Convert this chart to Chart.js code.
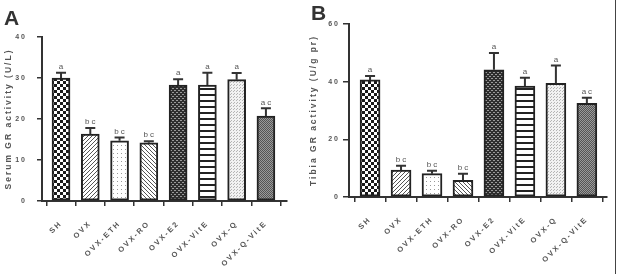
<!DOCTYPE html>
<html lang="en">
<head>
  <meta charset="UTF-8">
  <title>GR activity</title>
  <script src="https://cdn.jsdelivr.net/npm/chart.js"></script>
  <style>
    body {
      margin: 0;
      background: #ffffff;
      width: 621px;
      height: 274px;
      overflow: hidden;
      position: relative;
      font-family: "Liberation Sans", Arial, sans-serif;
    }
    .panel {
      position: absolute;
      top: 0;
      height: 274px;
    }
    #boxA { left: 0; width: 305px; }
    #boxB { left: 305px; width: 316px; }
    .tag {
      position: absolute;
      font-weight: bold;
      font-size: 21px;
      color: #333;
    }
    .frame {
      position: absolute;
      left: 615px;
      top: 0;
      width: 1px;
      height: 274px;
      background: #444;
    }
  </style>
</head>
<body>
  <div class="panel" id="boxA"><canvas id="chartA"></canvas></div>
  <div class="panel" id="boxB"><canvas id="chartB"></canvas></div>
  <div class="tag" style="left:4px; top:6px;">A</div>
  <div class="tag" style="left:311px; top:1px;">B</div>
  <div class="frame"></div>

  <script>
    // groups
    const groups = ['SH', 'OVX', 'OVX-ETH', 'OVX-RO', 'OVX-E2', 'OVX-VitE', 'OVX-Q', 'OVX-Q-VitE'];

    // serum GR activity (U/L)
    const serumGR = [30.0, 16.3, 14.7, 14.2, 28.3, 28.3, 29.6, 20.7];
    const serumErr = [1.3, 1.5, 0.8, 0.4, 1.4, 3.0, 1.6, 1.9];
    const serumLetters = ['a', 'bc', 'bc', 'bc', 'a', 'a', 'a', 'ac'];

    // tibia GR activity (U/g pr)
    const tibiaGR = [40.6, 9.3, 8.1, 5.8, 44.1, 38.5, 39.4, 32.5];
    const tibiaErr = [1.4, 1.5, 1.0, 2.3, 5.8, 2.9, 6.2, 1.9];
    const tibiaLetters = ['a', 'bc', 'bc', 'bc', 'a', 'a', 'a', 'ac'];

    const FONT = '"Liberation Sans", Arial, sans-serif';

    // fill patterns, one per group
    function makePattern(w, h, draw) {
      const c = document.createElement('canvas');
      c.width = w; c.height = h;
      const g = c.getContext('2d');
      draw(g, w, h);
      return g.createPattern(c, 'repeat');
    }

    const fills = [
      // SH checkerboard
      makePattern(6, 6, (g) => {
        g.fillStyle = '#fff'; g.fillRect(0, 0, 6, 6);
        g.fillStyle = '#1a1a1a'; g.fillRect(0, 0, 3, 3); g.fillRect(3, 3, 3, 3);
      }),
      // OVX  ////
      makePattern(4, 4, (g) => {
        g.fillStyle = '#fff'; g.fillRect(0, 0, 4, 4);
        g.strokeStyle = '#555'; g.lineWidth = 1;
        g.beginPath(); g.moveTo(0, 4); g.lineTo(4, 0); g.moveTo(-1, 1); g.lineTo(1, -1); g.moveTo(3, 5); g.lineTo(5, 3); g.stroke();
      }),
      // ETH sparse dots
      makePattern(4, 4, (g) => {
        g.fillStyle = '#fff'; g.fillRect(0, 0, 4, 4);
        g.fillStyle = '#999'; g.fillRect(1, 1, 1, 1);
      }),
      // RO \\\\
      makePattern(4, 4, (g) => {
        g.fillStyle = '#fff'; g.fillRect(0, 0, 4, 4);
        g.strokeStyle = '#555'; g.lineWidth = 1;
        g.beginPath(); g.moveTo(0, 0); g.lineTo(4, 4); g.moveTo(3, -1); g.lineTo(5, 1); g.moveTo(-1, 3); g.lineTo(1, 5); g.stroke();
      }),
      // E2 dark weave
      makePattern(4, 4, (g) => {
        g.fillStyle = '#2e2e2e'; g.fillRect(0, 0, 4, 4);
        g.fillStyle = '#9a9a9a'; g.fillRect(0, 0, 2, 1); g.fillRect(2, 2, 2, 1);
      }),
      // VitE horizontal stripes
      makePattern(6, 6, (g) => {
        g.fillStyle = '#fff'; g.fillRect(0, 0, 6, 6);
        g.fillStyle = '#222'; g.fillRect(0, 4, 6, 2);
      }),
      // Q light speckle
      makePattern(3, 3, (g) => {
        g.fillStyle = '#f2f2f2'; g.fillRect(0, 0, 3, 3);
        g.fillStyle = '#b5b5b5'; g.fillRect(0, 0, 1, 1); g.fillRect(2, 1, 1, 1);
      }),
      // Q-VitE medium grey speckle
      makePattern(2, 2, (g) => {
        g.fillStyle = '#9a9a9a'; g.fillRect(0, 0, 2, 2);
        g.fillStyle = '#555'; g.fillRect(0, 0, 1, 1); g.fillRect(1, 1, 1, 1);
      })
    ];

    // error bars + significance letters
    const errorBars = {
      id: 'errorBars',
      afterDatasetsDraw(chart, args, opts) {
        const { ctx, scales: { x, y } } = chart;
        const vals = chart.data.datasets[0].data;
        ctx.save();
        ctx.strokeStyle = '#333';
        ctx.lineWidth = 2;
        ctx.letterSpacing = '2px';
        ctx.font = '8px ' + FONT;
        ctx.fillStyle = '#555';
        ctx.textAlign = 'center';
        ctx.textBaseline = 'bottom';
        vals.forEach((p, i) => {
          const px = x.getPixelForValue(p.x);
          const y0 = y.getPixelForValue(p.y);
          const y1 = y.getPixelForValue(p.y + opts.err[i]);
          ctx.beginPath();
          ctx.moveTo(px, y0); ctx.lineTo(px, y1);
          ctx.moveTo(px - 5, y1); ctx.lineTo(px + 5, y1);
          ctx.stroke();
          ctx.fillText(opts.letters[i], px + 1, y1 - 2);
        });
        ctx.restore();
      }
    };

    const spacing = {
      id: 'spacing',
      beforeDraw(chart) { chart.ctx.letterSpacing = '2px'; }
    };

    function buildChart(id, o) {
      return new Chart(document.getElementById(id), {
        type: 'bar',
        data: {
          datasets: [{
            data: groups.map((g, i) => ({ x: i, y: o.values[i] })),
            backgroundColor: fills,
            borderColor: '#222',
            borderWidth: 2,
            borderSkipped: false,
            barThickness: o.barW
          }]
        },
        options: {
          responsive: true,
          maintainAspectRatio: false,
          animation: false,
          layout: { padding: { left: 0, top: o.top, right: o.right, bottom: 0 } },
          plugins: {
            legend: { display: false },
            tooltip: { enabled: false },
            errorBars: { err: o.err, letters: o.letters }
          },
          scales: {
            x: {
              type: 'linear',
              offset: false,
              min: o.xmin,
              max: o.xmax,
              afterBuildTicks: (axis) => { axis.ticks = groups.map((g, i) => ({ value: i })); },
              afterFit: (axis) => { axis.height = o.xh; },
              ticks: {
                autoSkip: false,
                minRotation: 45,
                maxRotation: 45,
                padding: 13,
                color: '#555',
                font: { size: 7.5, weight: 'bold', family: FONT },
                callback: (v) => groups[v]
              },
              grid: { drawOnChartArea: false, drawTicks: true, tickLength: 5, color: '#333', lineWidth: 1.5 },
              border: { color: '#333', width: 2 }
            },
            y: {
              min: 0,
              max: o.ymax,
              afterFit: (axis) => { axis.width = o.yw; },
              ticks: {
                stepSize: o.step,
                padding: o.tickPad,
                color: '#555',
                font: { size: 7, weight: 'bold', family: FONT }
              },
              grid: { drawOnChartArea: false, drawTicks: true, tickLength: o.tickLen, color: '#333', lineWidth: 1.5 },
              border: { color: '#333', width: 2 },
              title: {
                display: true,
                text: o.title,
                color: '#555',
                padding: { top: 4, bottom: 0 },
                font: { size: 8.5, weight: 'bold', family: FONT }
              }
            }
          }
        },
        plugins: [spacing, errorBars]
      });
    }

    buildChart('chartA', {
      values: serumGR, err: serumErr, letters: serumLetters,
      title: 'Serum GR activity (U/L)', ymax: 40, step: 10,
      top: 37, right: 18, yw: 42, xh: 73,
      xmin: -0.65, xmax: 7.72, barW: 18, tickPad: 10, tickLen: 5
    });

    buildChart('chartB', {
      values: tibiaGR, err: tibiaErr, letters: tibiaLetters,
      title: 'Tibia GR activity (U/g pr)', ymax: 60, step: 20,
      top: 24, right: 14, yw: 44, xh: 77,
      xmin: -0.68, xmax: 7.65, barW: 20, tickPad: 3, tickLen: 6
    });
  </script>
</body>
</html>
